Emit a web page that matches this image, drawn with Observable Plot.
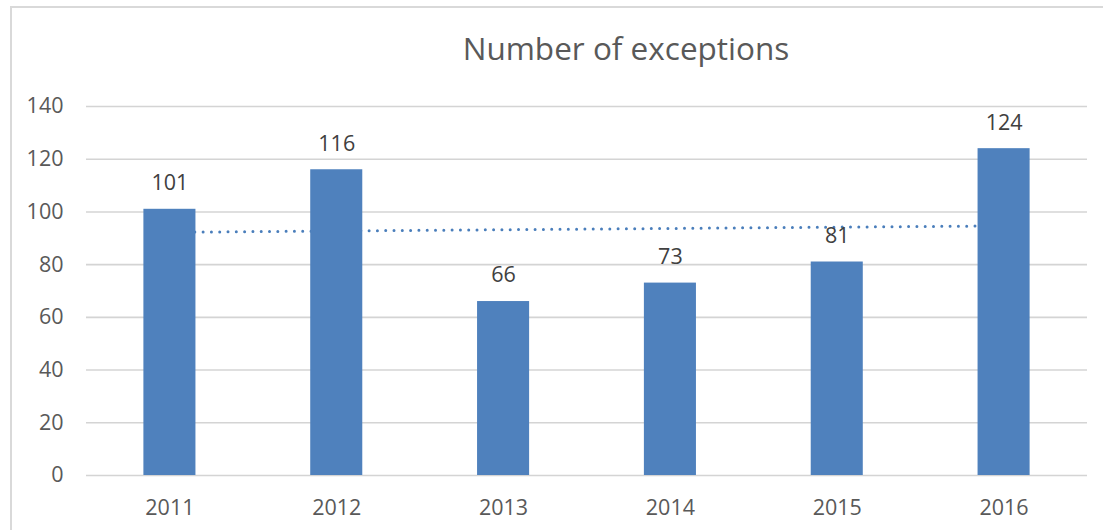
<!DOCTYPE html>
<html>
<head>
<meta charset="utf-8">
<script src="https://cdn.jsdelivr.net/npm/d3@7"></script>
<script src="https://cdn.jsdelivr.net/npm/@observablehq/plot@0.6"></script>
<style>
  html, body { margin: 0; padding: 0; background: #fff; overflow: hidden; }
  #wrap { position: relative; width: 1103px; height: 530px; overflow: hidden; }
  #frame { position: absolute; left: 10px; top: 6px; width: 1200px; height: 600px;
           border: 2px solid #d9d9d9; box-sizing: border-box; }
  #title, #chart { position: relative; }
  svg { display: block; }
</style>
</head>
<body>
<div id="wrap">
  <div id="frame"></div>
  <div id="title"></div>
  <div id="chart"></div>
</div>
<script>
const titleText = "Number of exceptions";
const years = ["2011", "2012", "2013", "2014", "2015", "2016"];
const exceptions = [101, 116, 66, 73, 81, 124];
const yTicks = [0, 20, 40, 60, 80, 100, 120, 140];

// Linear trendline (least squares over category index 1..n), as in the source chart
const xs = exceptions.map((_, i) => i + 1);
const mx = d3.mean(xs), my = d3.mean(exceptions);
const slope = d3.sum(xs, (x, i) => (x - mx) * (exceptions[i] - my)) / d3.sum(xs, x => (x - mx) ** 2);
const intercept = my - slope * mx;

const data = years.map((year, i) => ({
  year,
  value: exceptions[i],
  trend: intercept + slope * (i + 1)
}));

// Title (above the plot SVG)
const tsvg = d3.select("#title").append("svg").attr("width", 1103).attr("height", 80);
tsvg.append("text")
  .attr("x", 626).attr("y", 60)
  .attr("text-anchor", "middle")
  .attr("font-family", "Open Sans")
  .attr("font-size", 31.5)
  .attr("fill", "#595959")
  .text(titleText);

const chart = Plot.plot({
  width: 1103,
  height: 450,
  marginTop: 26,
  marginBottom: 55,
  marginLeft: 86,
  marginRight: 16,
  style: { fontFamily: "Open Sans", fontSize: "21.5px", color: "#595959", background: "transparent", overflow: "visible" },
  x: { domain: years, paddingInner: 0.688, paddingOuter: 0.344, round: false, label: null },
  y: { domain: [0, 140], label: null },
  marks: [
    Plot.gridY(yTicks, { stroke: "#d4d4d4", strokeOpacity: 1, strokeWidth: 1.6 }),
    Plot.line(data, { x: "year", y: "trend", stroke: "#4a7ebb", strokeWidth: 3,
      strokeDasharray: "0,8.3", strokeLinecap: "round" }),
    Plot.barY(data, { x: "year", y: "value", fill: "#4f81bd" }),
    Plot.text(data, { x: "year", y: "value", text: d => String(d.value), dy: -26,
      fill: "#404040", fontSize: 21.5 }),
    Plot.axisX({ tickSize: 0, tickPadding: 24, label: null, fill: "#595959" }),
    Plot.axisY(yTicks, { tickSize: 0, tickPadding: 23, label: null, fill: "#595959" })
  ]
});
document.getElementById("chart").appendChild(chart);
</script>
</body>
</html>
